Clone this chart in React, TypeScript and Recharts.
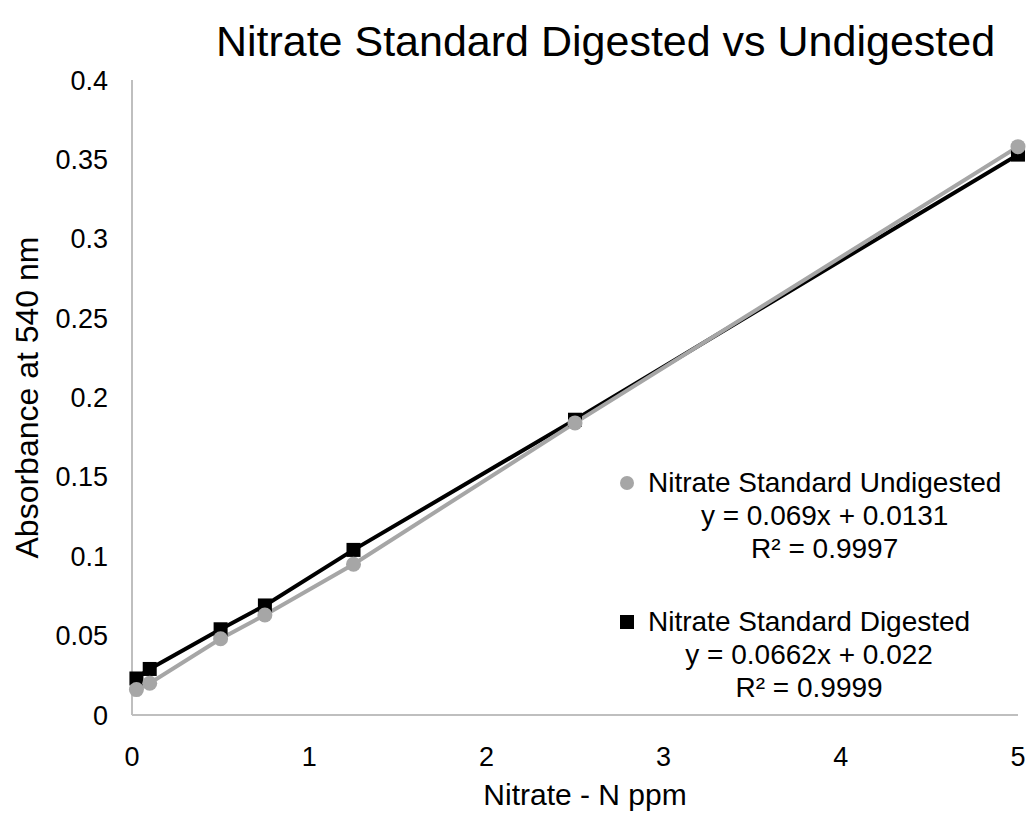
import { LineChart, Line, XAxis, YAxis, Legend } from 'recharts'

const FONT = '"Liberation Sans", Arial, sans-serif'
const GREY = '#a6a6a6'
const BLACK = '#000000'

// nitrate-N standards (ppm) and absorbance readings at 540 nm
const concentrations = [0.025, 0.1, 0.5, 0.75, 1.25, 2.5, 5]
const undigestedAbs = [0.016, 0.02, 0.048, 0.063, 0.095, 0.184, 0.358]
const digestedAbs = [0.023, 0.029, 0.054, 0.069, 0.104, 0.186, 0.353]

const seriesNames = ['Nitrate Standard Undigested', 'Nitrate Standard Digested']
const fitEquations = ['y = 0.069x + 0.0131', 'y = 0.0662x + 0.022']
const fitR2 = ['R² = 0.9997', 'R² = 0.9999']

const xTicks = [0, 1, 2, 3, 4, 5]
const yTicks = [0, 0.05, 0.1, 0.15, 0.2, 0.25, 0.3, 0.35, 0.4]

const undigestedData = concentrations.map((x, i) => ({ x, y: undigestedAbs[i] }))
const digestedData = concentrations.map((x, i) => ({ x, y: digestedAbs[i] }))

const CircleDot = (props: any) => {
  const { cx, cy, index } = props
  if (cx == null || cy == null) return null
  return <circle key={`c-${index}`} cx={cx} cy={cy} r={7.5} fill={GREY} />
}

const SquareDot = (props: any) => {
  const { cx, cy, index } = props
  if (cx == null || cy == null) return null
  return <rect key={`s-${index}`} x={cx - 7} y={cy - 7} width={14} height={14} fill={BLACK} />
}

function FitLegend() {
  const items = [
    { name: seriesNames[0], eq: fitEquations[0], r2: fitR2[0], color: GREY, round: true },
    { name: seriesNames[1], eq: fitEquations[1], r2: fitR2[1], color: BLACK, round: false },
  ]
  return (
    <div style={{ fontFamily: FONT, fontSize: 28, lineHeight: '33px', color: '#000' }}>
      {items.map((it, i) => (
        <div key={it.name} style={{ display: 'flex', alignItems: 'flex-start', marginTop: i ? 40 : 0 }}>
          <div
            style={{
              width: 14,
              height: 14,
              flex: 'none',
              background: it.color,
              borderRadius: it.round ? '50%' : 0,
              marginTop: 10,
              marginRight: 14,
            }}
          />
          <div style={{ textAlign: 'center', whiteSpace: 'nowrap' }}>
            <div>{it.name}</div>
            <div>{it.eq}</div>
            <div>{it.r2}</div>
          </div>
        </div>
      ))}
    </div>
  )
}

export default function App() {
  return (
    <div style={{ position: 'absolute', left: 0, top: 0, width: 1029, height: 813, background: '#fff' }}>
      <div
        style={{
          position: 'absolute',
          left: 91,
          top: 16,
          width: 1029,
          textAlign: 'center',
          fontFamily: FONT,
          fontSize: 43,
          lineHeight: '50px',
          color: '#000',
        }}
      >
        Nitrate Standard Digested vs Undigested
      </div>
      <LineChart width={1029} height={813} margin={{ top: 80, right: 11, bottom: 0, left: 0 }}>
        <XAxis
          type="number"
          dataKey="x"
          domain={[0, 5]}
          ticks={xTicks}
          interval={0}
          height={98}
          stroke="#bfbfbf"
          strokeWidth={2}
          tickLine={false}
          tickSize={0}
          tickMargin={32}
          tick={{ fill: '#000', fontSize: 27, fontFamily: FONT }}
          label={(p: any) => {
            const vb = p.viewBox
            return (
              <text
                x={vb.x + vb.width / 2 + 10}
                y={797}
                textAnchor="middle"
                dominantBaseline="middle"
                fontSize={30}
                fontFamily={FONT}
                fill="#000"
              >
                Nitrate - N ppm
              </text>
            )
          }}
        />
        <YAxis
          type="number"
          dataKey="y"
          domain={[0, 0.4]}
          ticks={yTicks}
          interval={0}
          width={132}
          stroke="#bfbfbf"
          strokeWidth={2}
          tickLine={false}
          tickSize={0}
          tickMargin={24}
          tick={{ fill: '#000', fontSize: 27, fontFamily: FONT }}
          label={(p: any) => {
            const vb = p.viewBox
            const cy = vb.y + vb.height / 2
            return (
              <text
                x={30}
                y={cy}
                transform={`rotate(-90 30 ${cy})`}
                textAnchor="middle"
                dominantBaseline="middle"
                fontSize={32}
                fontFamily={FONT}
                fill="#000"
              >
                Absorbance at 540 nm
              </text>
            )
          }}
        />
        <Legend
          layout="vertical"
          align="center"
          verticalAlign="middle"
          content={() => <FitLegend />}
          wrapperStyle={{ left: 620, top: 466, width: 400 }}
        />
        <Line
          data={digestedData}
          dataKey="y"
          name={seriesNames[1]}
          type="linear"
          stroke={BLACK}
          strokeWidth={4}
          dot={SquareDot}
          activeDot={false}
          isAnimationActive={false}
        />
        <Line
          data={undigestedData}
          dataKey="y"
          name={seriesNames[0]}
          type="linear"
          stroke={GREY}
          strokeWidth={4}
          dot={CircleDot}
          activeDot={false}
          isAnimationActive={false}
        />
      </LineChart>
    </div>
  )
}
